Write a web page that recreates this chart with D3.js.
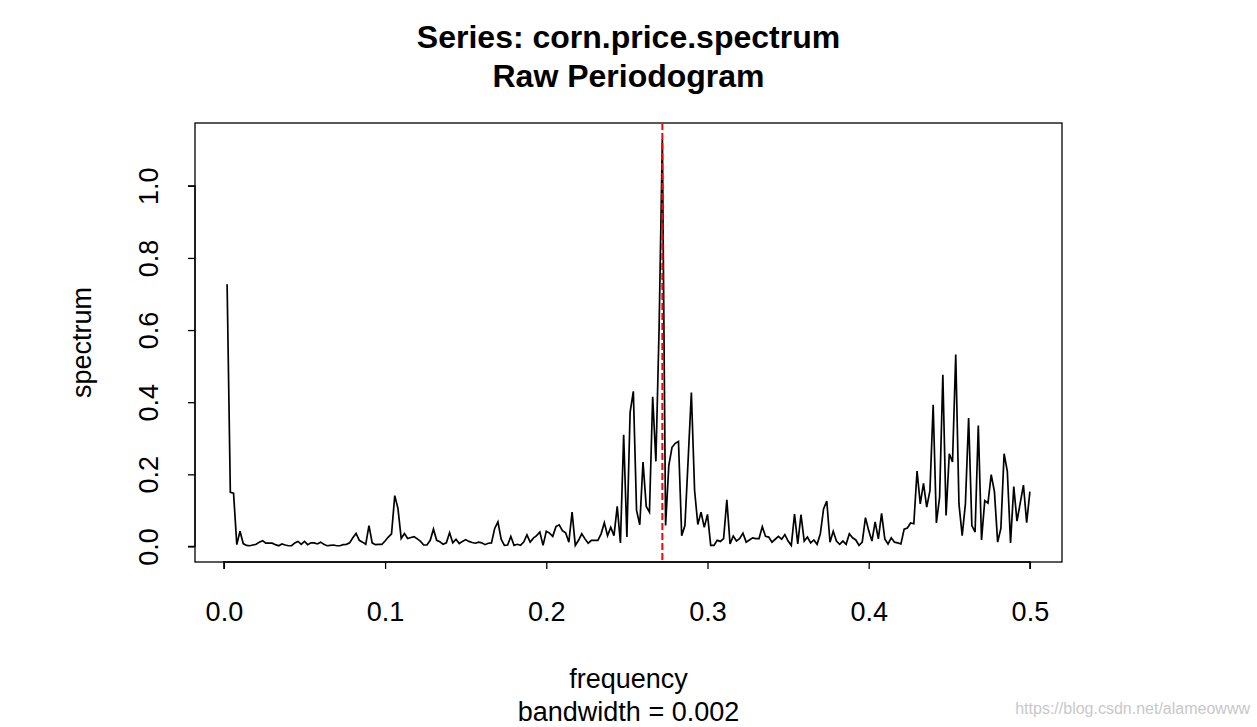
<!DOCTYPE html>
<html>
<head>
<meta charset="utf-8">
<script src="https://cdn.jsdelivr.net/npm/d3@7"></script>
<style>
  body { margin: 0; background: #fff; }
  svg text { font-family: "Liberation Sans", Arial, sans-serif; fill: #000; }
</style>
</head>
<body>
<div id="chart"></div>
<script>
// raw periodogram ordinates, one per Fourier frequency k / seriesLength
const seriesLength = 500;
const spectrum = [
  0.727, 0.150, 0.148, 0.005, 0.042, 0.008, 0.003, 0.002, 0.004, 0.006,
  0.012, 0.016, 0.009, 0.009, 0.009, 0.005, 0.002, 0.007, 0.004, 0.002,
  0.002, 0.010, 0.014, 0.006, 0.014, 0.005, 0.010, 0.010, 0.007, 0.012,
  0.006, 0.002, 0.003, 0.004, 0.002, 0.002, 0.005, 0.006, 0.010, 0.024,
  0.036, 0.017, 0.012, 0.006, 0.058, 0.010, 0.005, 0.006, 0.006, 0.015,
  0.026, 0.035, 0.141, 0.105, 0.022, 0.036, 0.022, 0.025, 0.027, 0.021,
  0.014, 0.004, 0.004, 0.017, 0.048, 0.017, 0.013, 0.006, 0.010, 0.038,
  0.010, 0.020, 0.008, 0.014, 0.019, 0.014, 0.011, 0.009, 0.012, 0.010,
  0.005, 0.009, 0.010, 0.050, 0.068, 0.020, 0.003, 0.004, 0.028, 0.003,
  0.006, 0.003, 0.012, 0.032, 0.012, 0.023, 0.030, 0.040, 0.003, 0.042,
  0.037, 0.028, 0.055, 0.060, 0.044, 0.038, 0.012, 0.095, 0.003, 0.017,
  0.035, 0.021, 0.009, 0.017, 0.017, 0.017, 0.035, 0.066, 0.030, 0.053,
  0.030, 0.111, 0.010, 0.310, 0.026, 0.372, 0.430, 0.100, 0.060, 0.234,
  0.111, 0.095, 0.415, 0.236, 0.610, 1.129, 0.058, 0.224, 0.275, 0.286,
  0.291, 0.030, 0.058, 0.240, 0.427, 0.155, 0.061, 0.095, 0.053, 0.089,
  0.003, 0.003, 0.017, 0.014, 0.022, 0.129, 0.007, 0.029, 0.015, 0.022,
  0.037, 0.012, 0.018, 0.024, 0.022, 0.022, 0.055, 0.028, 0.026, 0.012,
  0.020, 0.028, 0.020, 0.033, 0.015, 0.003, 0.090, 0.007, 0.088, 0.015,
  0.026, 0.010, 0.018, 0.006, 0.035, 0.104, 0.126, 0.012, 0.042, 0.015,
  0.006, 0.015, 0.006, 0.035, 0.024, 0.018, 0.003, 0.012, 0.080, 0.044,
  0.015, 0.068, 0.021, 0.092, 0.021, 0.007, 0.024, 0.012, 0.010, 0.007,
  0.048, 0.051, 0.065, 0.063, 0.209, 0.118, 0.175, 0.109, 0.155, 0.393,
  0.065, 0.137, 0.476, 0.086, 0.257, 0.234, 0.532, 0.118, 0.030, 0.118,
  0.356, 0.058, 0.040, 0.335, 0.018, 0.127, 0.120, 0.199, 0.152, 0.012,
  0.050, 0.257, 0.208, 0.010, 0.166, 0.070, 0.120, 0.170, 0.066, 0.152
];
const xTicks = [0, 0.1, 0.2, 0.3, 0.4, 0.5];
const yTicks = [0, 0.2, 0.4, 0.6, 0.8, 1.0];
const titleLines = ['Series: corn.price.spectrum', 'Raw Periodogram'];
const xLabel = 'frequency';
const subLabel = 'bandwidth = 0.002';
const yLabel = 'spectrum';
const watermark = 'https://blog.csdn.net/alameowww';

const W = 1257;
const H = 727;
const box = { l: 195, r: 1062, t: 123, b: 562 };

const data = spectrum.map((v, i) => ({ freq: (i + 1) / seriesLength, spec: v }));

// R style axis range: data extent padded by 4%
function pad(ext) {
  const d = (ext[1] - ext[0]) * 0.04;
  return [ext[0] - d, ext[1] + d];
}

const x = d3.scaleLinear()
  .domain(pad(d3.extent(data, d => d.freq)))
  .range([box.l, box.r]);

const y = d3.scaleLinear()
  .domain(pad(d3.extent(data, d => d.spec)))
  .range([box.b, box.t]);

const svg = d3.select('#chart').append('svg')
  .attr('width', W)
  .attr('height', H);

// titles
svg.selectAll('.title')
  .data(titleLines)
  .enter().append('text')
  .attr('class', 'title')
  .attr('x', (box.l + box.r) / 2)
  .attr('y', (d, i) => 48 + i * 39)
  .attr('text-anchor', 'middle')
  .style('font-size', '32px')
  .style('font-weight', 'bold')
  .text(d => d);

// x axis
const xAxis = d3.axisBottom(x)
  .tickValues(xTicks)
  .tickFormat(d3.format('.1f'))
  .tickSize(7)
  .tickPadding(33);

const gx = svg.append('g')
  .attr('transform', `translate(0, ${box.b})`)
  .call(xAxis);
gx.select('.domain')
  .attr('d', `M${x(xTicks[0])},7V0H${x(xTicks[xTicks.length - 1])}V7`)
  .attr('stroke', '#000')
  .attr('stroke-width', 1.3);
gx.selectAll('.tick line').attr('stroke', '#000').attr('stroke-width', 1.3);
gx.selectAll('.tick text')
  .attr('font-family', '"Liberation Sans", Arial, sans-serif')
  .style('font-size', '27px')
  .attr('fill', '#000');

// y axis
const yAxis = d3.axisLeft(y)
  .tickValues(yTicks)
  .tickFormat(d3.format('.1f'))
  .tickSize(7)
  .tickPadding(0);

const gy = svg.append('g')
  .attr('transform', `translate(${box.l}, 0)`)
  .call(yAxis);
gy.select('.domain')
  .attr('d', `M-7,${y(yTicks[0])}H0V${y(yTicks[yTicks.length - 1])}H-7`)
  .attr('stroke', '#000')
  .attr('stroke-width', 1.3);
gy.selectAll('.tick line').attr('stroke', '#000').attr('stroke-width', 1.3);
gy.selectAll('.tick text')
  .attr('x', null)
  .attr('dy', null)
  .attr('text-anchor', 'middle')
  .attr('transform', 'translate(-37, 0) rotate(-90)')
  .attr('font-family', '"Liberation Sans", Arial, sans-serif')
  .style('font-size', '27px')
  .attr('fill', '#000');

// plot box
svg.append('rect')
  .attr('x', box.l)
  .attr('y', box.t)
  .attr('width', box.r - box.l)
  .attr('height', box.b - box.t)
  .attr('fill', 'none')
  .attr('stroke', '#000')
  .attr('stroke-width', 1.3);

// periodogram line
const line = d3.line()
  .x(d => x(d.freq))
  .y(d => y(d.spec));

svg.append('path')
  .datum(data)
  .attr('d', line)
  .attr('fill', 'none')
  .attr('stroke', '#000')
  .attr('stroke-width', 1.7)
  .attr('stroke-linejoin', 'miter');

// dashed line at the peak frequency
const peak = data.reduce((a, b) => (b.spec > a.spec ? b : a));
svg.append('line')
  .attr('x1', x(peak.freq))
  .attr('x2', x(peak.freq))
  .attr('y1', box.t)
  .attr('y2', box.b)
  .attr('stroke', '#ff0000')
  .attr('stroke-width', 2)
  .attr('stroke-dasharray', '7,3');

// axis titles
svg.append('text')
  .attr('x', (box.l + box.r) / 2)
  .attr('y', 688)
  .attr('text-anchor', 'middle')
  .style('font-size', '27px')
  .text(xLabel);

svg.append('text')
  .attr('x', (box.l + box.r) / 2)
  .attr('y', 721)
  .attr('text-anchor', 'middle')
  .style('font-size', '27px')
  .text(subLabel);

svg.append('text')
  .attr('transform', `translate(91, ${(box.t + box.b) / 2}) rotate(-90)`)
  .attr('text-anchor', 'middle')
  .style('font-size', '27px')
  .text(yLabel);

svg.append('text')
  .attr('x', 1250)
  .attr('y', 714)
  .attr('text-anchor', 'end')
  .style('font-size', '16px')
  .style('fill', '#c8c8c8')
  .text(watermark);
</script>
</body>
</html>
